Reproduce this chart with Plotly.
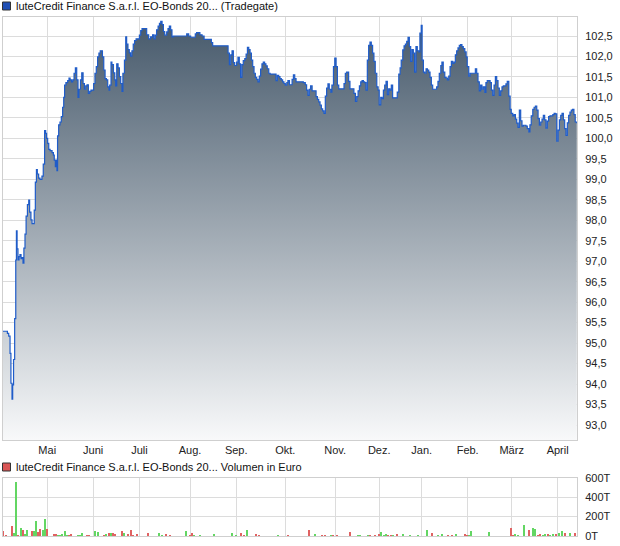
import plotly.graph_objects as go

# ---------------- data ----------------
# price: time position in trading days since start, and price (%)
t_days = [0, 2.0, 2.6, 3.2, 3.6, 4.1, 4.4, 4.8, 5.3, 5.8, 6.1, 6.4, 6.8, 7.3, 7.7, 8.2, 8.6, 9.1, 9.5, 10.0,
          10.5, 11.1, 11.7, 12.1, 12.7, 13.2, 14.2, 14.7, 15.2, 15.6, 16.2, 16.8, 17.7, 18.3, 18.9, 19.4, 19.8,
          20.3, 20.8, 21.4, 22.3, 22.9, 23.3, 23.8, 24.1, 24.5, 24.8, 25.3, 25.9, 26.5, 27.1, 27.6, 28.0, 28.6,
          29.4, 30.0, 30.5, 31.1, 31.7, 32.3, 32.9, 33.5, 34.1, 34.5, 35.2, 35.8, 36.4, 37.0, 37.6, 38.2, 38.8,
          39.4, 40.0, 41.2, 41.8, 42.4, 43.0, 43.6, 44.2, 45.2, 45.8, 46.4, 47.0, 47.6, 48.2, 48.5, 49.1, 49.5,
          50.2, 50.8, 51.2, 51.7, 52.3, 52.9, 53.5, 54.1, 54.5, 55.2, 55.8, 56.2, 56.8, 57.4, 58.0, 58.6, 59.2,
          59.8, 60.5, 62.0, 62.6, 63.2, 65.3, 66.2, 67.1, 68.0, 68.6, 69.2, 69.8, 70.5, 71.1, 71.7, 72.3, 72.9,
          73.5, 74.4, 75.0, 75.6, 76.2, 76.8, 77.4, 83.5, 84.4, 85.3, 87.4, 88.0, 89.5, 90.5, 91.4, 94.7, 95.3,
          102.3, 102.9, 103.5, 104.1, 104.7, 105.3, 106.2, 106.8, 107.4, 108.0, 108.6, 109.2, 109.9, 110.5,
          111.1, 111.7, 112.3, 112.9, 113.5, 114.1, 114.7, 115.3, 115.9, 116.5, 117.1, 117.7, 118.3, 118.9,
          119.5, 120.1, 120.8, 121.4, 124.1, 124.7, 125.3, 125.9, 126.5, 127.1, 127.7, 128.3, 129.0, 129.5,
          130.2, 131.4, 132.0, 132.6, 133.2, 136.5, 137.4, 138.0, 138.6, 139.2, 139.8, 140.5, 142.3, 142.9,
          143.5, 144.1, 144.7, 145.3, 145.9, 146.5, 147.1, 147.7, 148.3, 149.0, 149.5, 150.2, 150.8, 151.4,
          152.0, 152.6, 155.0, 155.6, 156.2, 157.1, 157.7, 159.5, 160.2, 160.8, 161.4, 162.0, 162.6, 163.2,
          163.8, 164.4, 165.0, 165.6, 166.2, 166.8, 167.4, 168.0, 168.6, 169.2, 169.9, 170.5, 171.0, 171.7,
          172.3, 172.9, 173.5, 174.1, 174.7, 175.3, 175.9, 176.5, 177.1, 179.2, 179.9, 180.5, 181.0, 181.7,
          182.3, 182.9, 183.5, 184.1, 184.7, 185.3, 185.9, 186.5, 187.1, 187.7, 188.3, 189.0, 189.5, 190.1,
          190.5, 191.1, 191.7, 192.3, 192.9, 193.5, 194.1, 194.7, 195.3, 197.1, 197.7, 198.3, 199.0, 199.5,
          200.1, 200.8, 201.4, 202.0, 202.6, 203.2, 203.8, 204.4, 205.0, 205.6, 206.2, 206.8, 207.4, 208.0,
          208.6, 209.2, 209.9, 210.5, 211.0, 211.7, 212.3, 214.7, 215.3, 215.9, 216.5, 217.1, 217.7, 218.3,
          219.0, 219.5, 220.1, 221.4, 222.0, 222.6, 223.2, 223.8, 224.4, 225.0, 225.6, 226.2, 226.8, 227.4,
          228.6, 229.2, 229.9, 230.5, 231.0, 231.7, 232.3, 232.9, 233.5, 234.1, 234.7, 235.3, 235.9, 236.5,
          237.7, 238.3, 239.0, 239.5, 240.1, 240.8, 241.4, 242.0, 242.6, 243.2, 243.8, 244.4, 245.0, 245.6,
          246.2, 246.8, 247.4, 248.0, 248.6, 249.9, 250.5, 251.0, 251.7, 252.3, 252.9, 253.5, 254.1, 254.7,
          255.3, 255.9, 256.5, 257.1, 257.7, 258.3, 258.9, 259.5, 260.1, 260.8]
price = [95.29, 95.24, 95.17, 94.75, 94.02, 93.63, 93.98, 94.60, 95.60, 97.03, 97.74, 97.30, 97.03, 97.11, 97.16,
         97.06, 97.09, 96.95, 97.32, 97.66, 98.10, 98.38, 98.49, 98.20, 98.01, 97.92, 98.25, 98.93, 99.24, 99.13,
         99.03, 99.00, 99.08, 99.37, 100.19, 100.12, 100.00, 99.88, 99.73, 99.70, 99.65, 99.59, 99.47, 99.31,
         99.47, 99.21, 100.06, 100.33, 100.40, 100.53, 100.76, 101.00, 101.30, 101.36, 101.41, 101.47, 101.43,
         101.38, 101.43, 101.59, 101.72, 101.43, 101.00, 101.20, 101.43, 101.60, 101.34, 101.20, 101.28, 101.31,
         101.10, 101.15, 101.18, 101.34, 101.59, 101.75, 101.99, 102.08, 102.14, 101.99, 101.67, 101.46, 101.43,
         101.26, 101.18, 101.30, 101.86, 101.80, 101.60, 101.43, 101.28, 101.82, 101.72, 101.51, 101.34, 101.15,
         101.59, 101.91, 102.48, 102.30, 102.17, 102.09, 102.01, 102.14, 102.30, 102.39, 102.43, 102.52, 102.63,
         102.68, 102.53, 102.43, 102.48, 102.53, 102.43, 102.52, 102.65, 102.74, 102.81, 102.86, 102.78, 102.61,
         102.52, 102.60, 102.68, 102.74, 102.65, 102.48, 102.50, 102.55, 102.50, 102.47, 102.55, 102.58, 102.53,
         102.50, 102.42, 102.34, 102.26, 102.08, 101.80, 102.04, 102.14, 101.85, 101.78, 101.86, 101.98, 101.82,
         101.49, 101.80, 101.90, 101.95, 102.06, 102.22, 102.17, 102.08, 101.91, 101.75, 101.59, 101.49, 101.44,
         101.38, 101.52, 101.69, 101.82, 101.86, 101.82, 101.77, 101.70, 101.59, 101.57, 101.41, 101.54, 101.51,
         101.46, 101.43, 101.38, 101.34, 101.30, 101.36, 101.41, 101.31, 101.44, 101.55, 101.46, 101.38, 101.36,
         101.31, 101.18, 101.05, 101.20, 101.28, 101.16, 101.02, 100.95, 100.89, 100.81, 100.72, 100.67, 100.61,
         101.03, 101.23, 101.33, 101.20, 101.13, 101.30, 101.75, 101.96, 101.75, 101.30, 101.21, 101.34, 101.59,
         101.62, 101.39, 101.21, 101.10, 100.90, 101.02, 101.16, 101.28, 101.38, 101.41, 101.38, 101.36, 101.18,
         101.91, 102.27, 102.35, 102.27, 102.08, 101.88, 101.59, 101.26, 101.18, 100.82, 101.00, 100.97, 101.18,
         101.30, 101.39, 101.07, 101.21, 101.18, 101.30, 100.99, 101.13, 101.57, 101.72, 101.91, 102.16, 102.26,
         102.30, 102.37, 102.47, 102.24, 101.88, 102.17, 102.08, 101.62, 102.24, 102.14, 102.11, 102.57, 102.76,
         101.91, 101.62, 101.59, 101.70, 101.67, 101.62, 101.49, 101.30, 101.20, 101.26, 101.39, 101.59, 101.78,
         101.86, 101.62, 101.49, 101.47, 101.43, 101.52, 101.75, 101.88, 101.83, 101.86, 102.04, 102.14, 102.21,
         102.27, 102.29, 102.24, 102.19, 102.11, 101.99, 101.75, 101.52, 101.59, 101.70, 101.59, 101.38, 101.16,
         101.30, 101.20, 101.26, 101.12, 101.36, 101.41, 101.36, 101.18, 101.05, 101.30, 101.51, 101.41, 101.23,
         101.05, 101.16, 101.26, 101.28, 101.33, 101.39, 101.03, 100.71, 100.61, 100.55, 100.58, 100.47, 100.37,
         100.27, 100.69, 100.43, 100.30, 100.32, 100.30, 100.24, 100.16, 100.33, 100.55, 100.71, 100.76, 100.79,
         100.69, 100.48, 100.32, 100.40, 100.47, 100.56, 100.45, 100.25, 100.42, 100.53, 100.55, 100.58, 100.61,
         100.60, 99.93, 100.20, 100.45, 100.56, 100.61, 100.45, 100.24, 100.07, 100.38, 100.56, 100.64, 100.69,
         100.71, 100.58, 100.40, 100.37]

# volume (Euro) per trading day position, and direction (1 = up / green)
vol_t = [0.0, 1.4, 4.2, 5.1, 6.0, 7.0, 8.3, 9.2, 10.1, 11.0, 13.3, 14.2, 15.1, 16.0, 17.0, 18.3, 19.2, 20.1,
         23.3, 24.2, 25.2, 25.9, 27.0, 28.3, 29.3, 30.0, 31.0, 34.1, 35.0, 36.0, 38.2, 39.1, 42.0, 43.3, 45.9,
         46.8, 48.3, 49.2, 50.1, 50.9, 54.2, 55.1, 56.8, 58.3, 59.1, 61.0, 66.0, 71.0, 72.3, 74.2, 75.9, 83.3,
         85.0, 86.0, 86.8, 89.5, 96.0, 104.2, 105.9, 108.3, 109.5, 111.0, 115.1, 116.4, 125.0, 129.8, 139.2,
         142.0, 145.0, 146.4, 149.1, 150.0, 151.8, 157.9, 161.4, 162.3, 165.9, 166.8, 169.1, 171.0, 172.0,
         173.2, 174.2, 175.0, 176.4, 177.3, 179.2, 182.0, 185.0, 188.6, 192.9, 195.1, 197.7, 199.7, 202.3,
         204.1, 206.0, 210.1, 210.9, 211.8, 212.9, 221.0, 231.0, 231.8, 232.9, 234.1, 237.0, 239.2, 241.0,
         242.0, 243.2, 244.2, 245.5, 246.5, 247.7, 248.6, 250.1, 251.5, 252.6, 254.2, 255.6, 257.9, 260.1]
vol_eur = [52000, 13000, 103000, 38000, 560000, 17000, 82000, 62000, 27000, 62000, 52000, 52000, 155000, 41000,
           72000, 62000, 175000, 72000, 21000, 21000, 12000, 10000, 21000, 52000, 10000, 12000, 21000, 12000,
           15000, 31000, 12000, 10000, 52000, 41000, 15000, 25000, 31000, 31000, 31000, 20000, 52000, 31000,
           20000, 62000, 15000, 21000, 31000, 31000, 10000, 21000, 10000, 52000, 15000, 31000, 12000, 8000,
           21000, 31000, 10000, 31000, 10000, 62000, 21000, 12000, 15000, 12000, 62000, 21000, 12000, 10000,
           12000, 15000, 10000, 41000, 15000, 12000, 10000, 12000, 12000, 21000, 41000, 15000, 21000, 10000,
           12000, 10000, 21000, 21000, 12000, 10000, 62000, 31000, 12000, 21000, 12000, 12000, 21000, 21000,
           15000, 12000, 52000, 41000, 82000, 12000, 21000, 15000, 113000, 62000, 82000, 72000, 12000, 21000,
           12000, 21000, 21000, 15000, 21000, 21000, 31000, 52000, 31000, 31000, 31000]
vol_up = [0, 0, 0, 1, 1, 0, 1, 0, 1, 1, 0, 1, 1, 0, 0, 1, 1, 0, 0, 0, 1, 1, 1, 1, 1, 0, 0, 1,
          1, 1, 0, 0, 1, 1, 0, 1, 0, 1, 0, 0, 0, 1, 0, 0, 0, 0, 0, 1, 1, 0, 0, 1, 0, 0, 1, 1,
          1, 1, 1, 0, 0, 1, 0, 0, 1, 0, 0, 1, 0, 0, 1, 0, 0, 0, 1, 1, 1, 0, 0, 0, 1, 1, 1, 0,
          0, 1, 0, 1, 1, 1, 1, 0, 1, 1, 0, 0, 1, 0, 0, 1, 1, 1, 0, 0, 1, 1, 1, 0, 1, 1, 0, 0,
          1, 1, 0, 1, 1, 0, 1, 1, 0, 1, 0]

month_pos = [20.1, 41.0, 62.0, 85.0, 106.0, 128.3, 151.0, 171.0, 190.3, 211.2, 231.2, 252.1]
month_labels = ["Mai", "Juni", "Juli", "Aug.", "Sep.", "Okt.", "Nov.", "Dez.", "Jan.", "Feb.", "März", "April"]
price_ticks = [93.0 + 0.5 * i for i in range(20)]
vol_ticks = [0, 200000, 400000, 600000]
vol_tick_labels = ["0T", "200T", "400T", "600T"]

title_price = "luteCredit Finance S.a.r.l. EO-Bonds 20... (Tradegate)"
title_vol = "luteCredit Finance S.a.r.l. EO-Bonds 20... Volumen in Euro"

# ---------------- layout geometry ----------------
W, H = 620, 546
L, R, T, B = 3, 43, 17, 10
PW, PH = W - L - R, H - T - B
price_bottom_px, vol_top_px = 440, 477.7


def dom(py):
    return (H - B - py) / PH


def px2x(px):
    return (px - L) / PW


GREEN, RED = "#63d663", "#e06262"
GRID = "#dcdcdc"
FONT = "Liberation Sans, Arial, sans-serif"

fig = go.Figure()
fig.add_trace(go.Scatter(
    x=t_days, y=price, mode="lines", line=dict(color="#1f5cc9", width=1.2, shape="hv"),
    fill="tozeroy",
    fillgradient=dict(type="vertical", start=92.634, stop=102.964,
                      colorscale=[[0, "#f8f9fa"], [1, "#45586a"]]),
    xaxis="x", yaxis="y", hoverinfo="skip", showlegend=False))

fig.add_trace(go.Bar(
    x=vol_t, y=vol_eur, width=0.55,
    marker=dict(color=[GREEN if u else RED for u in vol_up], line=dict(width=0)),
    xaxis="x2", yaxis="y2", hoverinfo="skip", showlegend=False))

axis_common = dict(showgrid=True, gridcolor=GRID, gridwidth=1, zeroline=False,
                   showline=True, linecolor="#cfcfcf", linewidth=1, mirror=True, automargin=False,
                   tickfont=dict(family=FONT, size=11, color="#222"))

fig.update_layout(
    width=W, height=H, margin=dict(l=L, r=R, t=T, b=B, autoexpand=False),
    paper_bgcolor="white", plot_bgcolor="white", separators=",.",
    font=dict(family=FONT, size=11, color="#222"),
    bargap=0,
    xaxis=dict(axis_common, domain=[0, 1], range=[0, 260.9], tickvals=month_pos, ticktext=month_labels,
               ticks="", anchor="y"),
    yaxis=dict(axis_common, domain=[dom(price_bottom_px), 1], range=[92.634, 102.964], side="right",
               tickvals=price_ticks, tickformat=".1f", ticks="", ticklabelstandoff=5, anchor="x"),
    xaxis2=dict(axis_common, domain=[0, 1], range=[0, 260.9], tickvals=month_pos, showticklabels=False,
                ticks="", anchor="y2", matches="x"),
    yaxis2=dict(axis_common, domain=[0, dom(vol_top_px)], range=[0, 600000], side="right",
                tickvals=vol_ticks, ticktext=vol_tick_labels, ticks="", ticklabelstandoff=5, anchor="x2"),
)

# legend-like headers
for py, color, text in [(6, "#1f4fb5", title_price), (467, "#d95555", title_vol)]:
    fig.add_shape(type="rect", xref="paper", yref="paper",
                  x0=px2x(2.5), x1=px2x(10.5), y0=dom(py + 4), y1=dom(py - 4),
                  fillcolor=color, line=dict(color="#333", width=1))
    fig.add_annotation(xref="paper", yref="paper", x=px2x(14), y=dom(py), text=text,
                       showarrow=False, xanchor="left", yanchor="middle",
                       font=dict(family=FONT, size=11, color="#111"))

fig.write_html("out.html", config={"displayModeBar": False},
               post_script="document.body.style.margin='0';document.body.style.overflow='hidden';")
